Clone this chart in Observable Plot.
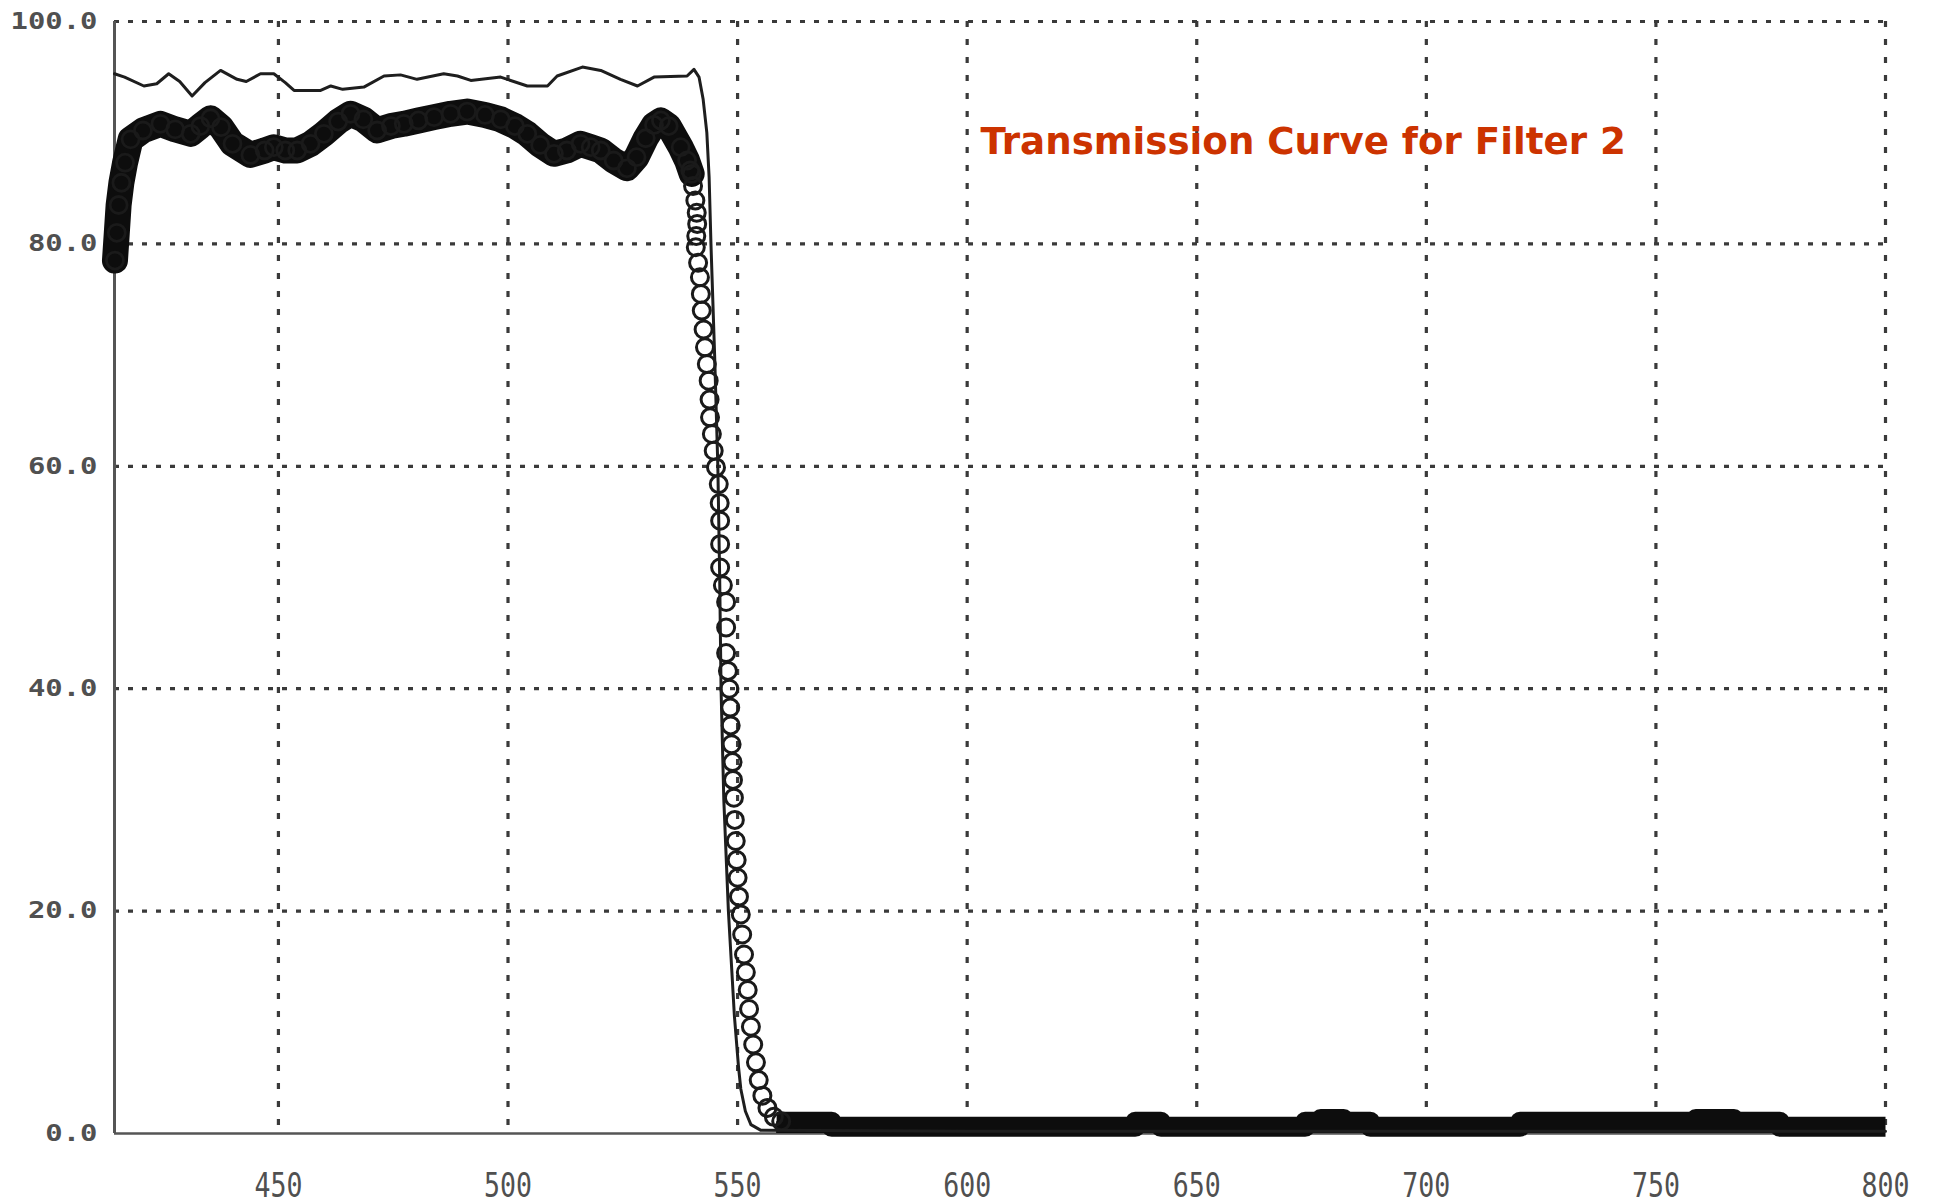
<!DOCTYPE html>
<html>
<head>
<meta charset="utf-8">
<script src="https://cdn.jsdelivr.net/npm/d3@7"></script>
<script src="https://cdn.jsdelivr.net/npm/@observablehq/plot@0.6"></script>
<style>
  html, body { margin: 0; padding: 0; background: #fff; }
  #chart { width: 1946px; height: 1203px; }
</style>
</head>
<body>
<div id="chart"></div>
<script>
// ---- data ----
const titleText = "Transmission Curve for Filter 2";

const xTicks = [450, 500, 550, 600, 650, 700, 750, 800];
const yTicks = [0, 20, 40, 60, 80, 100];

// thin line (design / theoretical transmission)
const theoryWl = [414.3, 416.5, 420.7, 423.5, 426.1, 428.5, 431.2, 434.0, 437.4, 441.0, 443.0, 446.1, 449.0, 451.5, 453.4, 459.2, 461.4, 464.0, 468.6, 473.0, 476.6, 480.2, 486.0, 489.0, 491.9, 498.4, 504.2, 508.6, 510.7, 516.2, 520.2, 524.5, 528.2, 531.8, 539.0, 540.5, 541.6, 542.5, 543.3, 543.8, 544.2, 545.0, 545.7, 546.1, 546.4, 547.0, 548.0, 549.3, 550.2, 550.7, 551.7, 552.9, 555.0, 600, 800];
const theoryT  = [95.3, 95.0, 94.2, 94.4, 95.3, 94.6, 93.3, 94.5, 95.6, 94.8, 94.6, 95.3, 95.3, 94.5, 93.8, 93.8, 94.2, 93.9, 94.1, 95.1, 95.2, 94.8, 95.3, 95.1, 94.7, 95.0, 94.2, 94.2, 95.1, 95.9, 95.6, 94.8, 94.2, 95.0, 95.1, 95.7, 95.0, 93.0, 90.0, 86.0, 80.0, 70.0, 60.0, 50.0, 40.0, 30.0, 20.0, 10.6, 6.0, 4.0, 2.0, 0.8, 0.3, 0.2, 0.2];

// measured transmission (circles) — pass band, where the circles merge into a band
const plateauWl = [414.4, 414.8, 415.2, 415.8, 416.6, 417.8, 420.5, 424.3, 427.5, 430.9, 433.0, 435.2, 437.5, 440.0, 443.9, 447.0, 449.0, 451.5, 454.1, 457.0, 459.9, 463.0, 465.7, 468.5, 471.5, 474.5, 477.3, 480.5, 483.9, 487.5, 491.1, 495.0, 498.4, 501.5, 504.2, 507.0, 510.0, 512.8, 515.8, 518.0, 520.2, 523.0, 525.9, 528.0, 530.0, 531.8, 533.3, 535.0, 537.6, 539.0, 540.0];
const plateauT  = [78.5, 81.0, 83.5, 85.5, 87.3, 89.4, 90.2, 90.8, 90.3, 89.9, 90.6, 91.3, 90.5, 89.0, 88.0, 88.4, 88.7, 88.4, 88.4, 89.0, 89.9, 91.0, 91.7, 91.2, 90.2, 90.6, 90.8, 91.1, 91.4, 91.7, 91.9, 91.6, 91.2, 90.6, 89.9, 88.9, 88.1, 88.4, 89.0, 88.7, 88.4, 87.5, 86.8, 87.8, 89.5, 90.7, 91.1, 90.6, 88.7, 87.5, 86.3];

// measured transmission (circles) — falling edge, circles resolved
const edgeWl = [539.7, 540.3, 540.8, 541.1, 541.2, 541.0, 540.9, 541.4, 541.8, 542.0, 542.2, 542.6, 542.9, 543.3, 543.7, 543.9, 544.0, 544.4, 544.8, 545.3, 545.9, 546.1, 546.2, 546.2, 546.2, 546.8, 547.5, 547.5, 547.5, 547.9, 548.2, 548.4, 548.5, 548.7, 548.9, 549.0, 549.2, 549.4, 549.6, 549.8, 550.0, 550.3, 550.7, 551.0, 551.4, 551.8, 552.2, 552.5, 552.9, 553.4, 554.0, 554.6, 555.4, 556.5, 557.9, 559.5];
const edgeT  = [86.6, 85.2, 83.9, 82.8, 81.8, 80.7, 79.7, 78.3, 77.0, 75.5, 74.0, 72.3, 70.7, 69.2, 67.7, 66.0, 64.4, 62.9, 61.4, 59.9, 58.4, 56.7, 55.1, 53.0, 50.9, 49.3, 47.8, 45.5, 43.2, 41.6, 40.0, 38.3, 36.7, 35.0, 33.4, 31.8, 30.2, 28.2, 26.3, 24.6, 23.0, 21.3, 19.7, 17.9, 16.1, 14.5, 12.9, 11.2, 9.6, 8.0, 6.4, 4.8, 3.4, 2.3, 1.5, 1.1];

// measured transmission — blocking band (solid band of overlapping circles, step levels)
const tailWl = [558.5, 570.5, 636.6, 642.2, 673.6, 677.0, 682.0, 687.8, 720.4, 758.7, 767.0, 777.0, 800.0];
const tailT  = [1.05, 0.6, 1.05, 0.6, 1.05, 1.3, 1.05, 0.6, 1.05, 1.3, 1.05, 0.6, 0.6];

// ---- tables built from the arrays ----
const zip = (ws, ts) => ws.map((w, i) => ({wl: w, t: ts[i]}));
const theory = zip(theoryWl, theoryT);
const plateau = zip(plateauWl, plateauT);
const edge = zip(edgeWl, edgeT);
const tail = zip(tailWl, tailT);

const xDomain = [414.3, 800];

const chart = Plot.plot({
  width: 1946,
  height: 1203,
  marginLeft: 114,
  marginRight: 61,
  marginTop: 21,
  marginBottom: 70,
  style: {background: "#fff", fontFamily: "'DejaVu Sans Mono', monospace", overflow: "visible"},
  x: {domain: xDomain, ticks: xTicks, label: null},
  y: {domain: [0, 100], ticks: yTicks, label: null},
  marks: [
    Plot.gridX(xTicks, {stroke: "#3a3a3a", strokeOpacity: 1, strokeWidth: 3.2, strokeDasharray: "6,12"}),
    Plot.gridY(yTicks.filter(v => v > 0), {stroke: "#3a3a3a", strokeOpacity: 1, strokeWidth: 3.2, strokeDasharray: "5,9"}),
    Plot.ruleY([0], {stroke: "#555", strokeWidth: 2.5}),
    Plot.ruleX([xDomain[0]], {stroke: "#555", strokeWidth: 3}),
    Plot.axisY({ticks: yTicks, tickSize: 0, tickPadding: 17, tickFormat: d => d.toFixed(1), label: null,
      fontSize: 23, fontWeight: "bold", fill: "#505050", fontFamily: "'DejaVu Sans Mono', monospace"}),
    Plot.axisX({ticks: xTicks, tickSize: 0, tickPadding: 39, tickFormat: d => String(d), label: null,
      fontSize: 34, fill: "#505050", fontFamily: "'DejaVu Sans Mono', monospace"}),
    // dense measured band in the pass band
    Plot.line(plateau, {x: "wl", y: "t", stroke: "#0d0d0d", strokeWidth: 26, strokeLinejoin: "round", strokeLinecap: "round"}),
    // solid measured band in the blocking region
    Plot.areaY(tail, {x: "wl", y: "t", curve: "step-after", fill: "#0d0d0d"}),
    Plot.line(tail, {x: "wl", y: "t", curve: "step-after", stroke: "#0d0d0d", strokeWidth: 20, strokeLinecap: "butt"}),
    // measured circles
    Plot.dot(plateau, {x: "wl", y: "t", r: 8.5, stroke: "#1a1a1a", strokeWidth: 2.8, fill: "none"}),
    Plot.dot(edge, {x: "wl", y: "t", r: 8.5, stroke: "#1a1a1a", strokeWidth: 3, fill: "none"}),
    // thin design curve
    Plot.line(theory, {x: "wl", y: "t", stroke: "#1e1e1e", strokeWidth: 3, strokeLinejoin: "round"}),
    // title inside the frame
    Plot.text([titleText], {text: d => d, frameAnchor: "top-left", dx: 866, dy: 121,
      textAnchor: "start", lineAnchor: "middle", fill: "#cc3300", fontSize: 37.2, fontWeight: "bold",
      fontFamily: "'DejaVu Sans', Verdana, sans-serif"})
  ]
});

// stretch / squeeze tick label glyphs like the reference's scanned lettering
chart.querySelectorAll('g[aria-label="x-axis tick label"] text').forEach(t => {
  t.setAttribute("textLength", 3 * 16);
  t.setAttribute("lengthAdjust", "spacingAndGlyphs");
});
chart.querySelectorAll('g[aria-label="y-axis tick label"] text').forEach(t => {
  t.setAttribute("textLength", t.textContent.length * 17.4);
  t.setAttribute("lengthAdjust", "spacingAndGlyphs");
});

document.getElementById("chart").appendChild(chart);
</script>
</body>
</html>
